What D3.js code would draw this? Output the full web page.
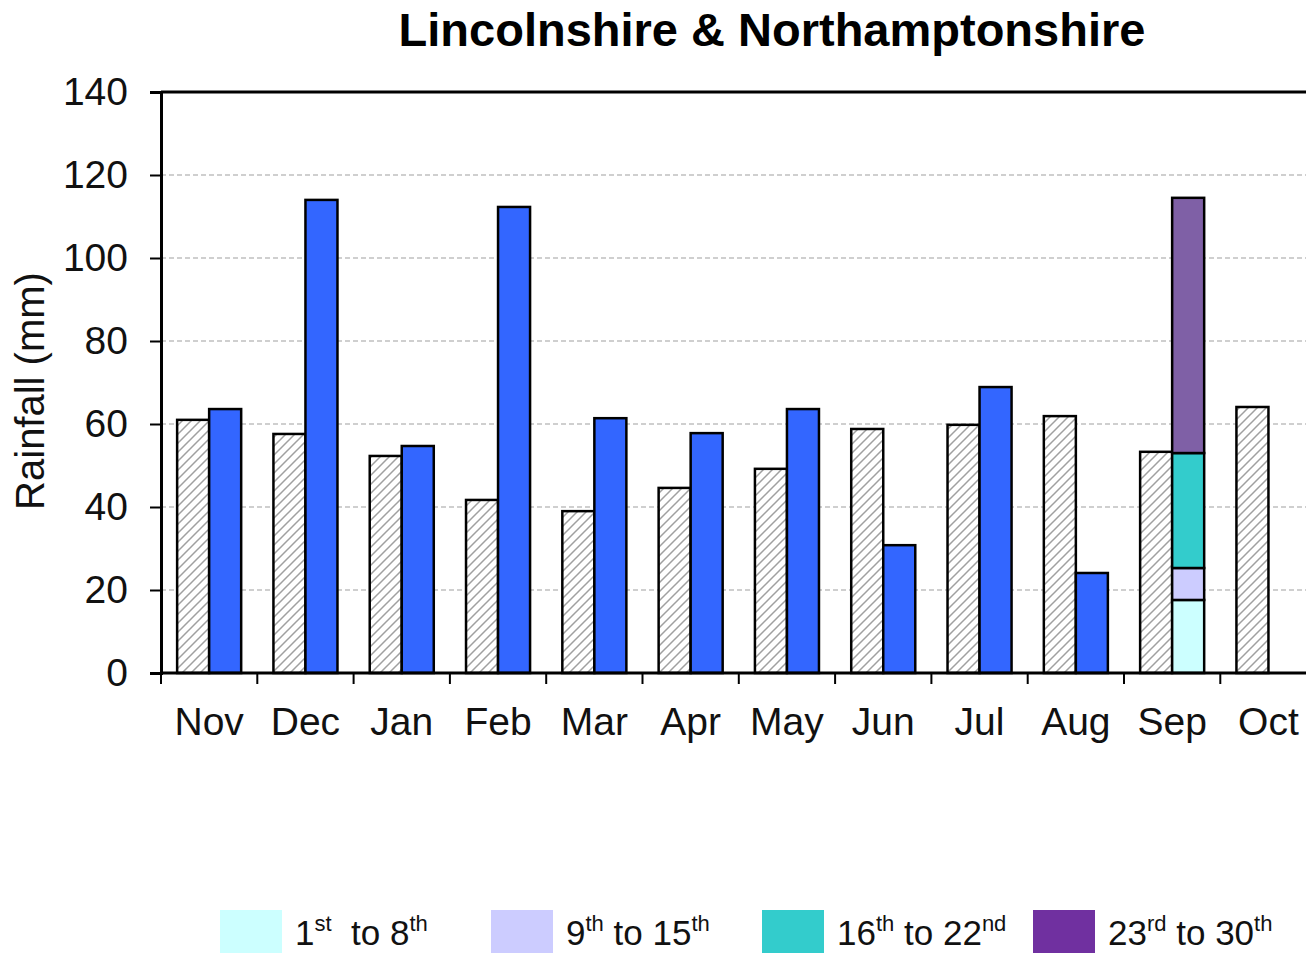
<!DOCTYPE html>
<html>
<head>
<meta charset="utf-8">
<script src="https://cdn.jsdelivr.net/npm/d3@7"></script>
<style>
  body { margin: 0; background: #fff; }
  svg { display: block; font-family: "Liberation Sans", Arial, sans-serif; }
</style>
</head>
<body>
<div id="chart"></div>
<script>
// data
const months = ['Nov', 'Dec', 'Jan', 'Feb', 'Mar', 'Apr', 'May', 'Jun', 'Jul', 'Aug', 'Sep', 'Oct'];
const average = [61, 57.6, 52.3, 41.7, 39, 44.6, 49.2, 58.8, 59.8, 61.9, 53.3, 64.1];
const actual = [63.6, 114, 54.7, 112.3, 61.4, 57.8, 63.6, 30.8, 68.9, 24.1, null, null];
const sepParts = [17.6, 7.7, 27.7, 61.5];
const partLabels = [['1', 'st', '  to 8', 'th'], ['9', 'th', ' to 15', 'th'], ['16', 'th', ' to 22', 'nd'], ['23', 'rd', ' to 30', 'th']];
const partColors = ['#ccffff', '#ccccff', '#33cccc', '#7f60a6'];
const legendColors = ['#ccffff', '#ccccff', '#33cccc', '#7030a0'];
const yTicks = [0, 20, 40, 60, 80, 100, 120, 140];

const width = 1306;
const height = 953;
const plotLeft = 161;
const plotTop = 92;
const plotBottom = 673;
const step = 96.3;

const svg = d3.select('#chart')
  .append('svg')
  .attr('width', width)
  .attr('height', height);

const defs = svg.append('defs');
const hatch = defs.append('pattern')
  .attr('id', 'hatch')
  .attr('patternUnits', 'userSpaceOnUse')
  .attr('width', 9)
  .attr('height', 9);
hatch.append('rect').attr('width', 9).attr('height', 9).attr('fill', '#fff');
hatch.append('path')
  .attr('d', 'M-2,2 L2,-2 M0,9 L9,0 M7,11 L11,7')
  .attr('stroke', '#a0a0a0')
  .attr('stroke-width', 1.5);

const x = d3.scaleBand()
  .domain(months)
  .range([plotLeft, plotLeft + step * months.length])
  .paddingInner(0.335)
  .paddingOuter(0.1675);

const y = d3.scaleLinear()
  .domain([0, 140])
  .range([plotBottom, plotTop]);

// title
svg.append('text')
  .attr('x', 772)
  .attr('y', 46)
  .attr('text-anchor', 'middle')
  .attr('font-size', 47)
  .attr('font-weight', 'bold')
  .text('Lincolnshire & Northamptonshire');

// grid
svg.append('g')
  .selectAll('line')
  .data(yTicks.slice(1, -1))
  .enter()
  .append('line')
  .attr('x1', plotLeft)
  .attr('x2', width)
  .attr('y1', d => y(d))
  .attr('y2', d => y(d))
  .attr('stroke', '#cfcfcf')
  .attr('stroke-width', 2)
  .attr('stroke-dasharray', '5,3');

// y axis
const yAxis = svg.append('g')
  .attr('transform', `translate(${plotLeft},0)`)
  .call(d3.axisLeft(y).tickValues(yTicks).tickSize(11).tickPadding(22));
yAxis.select('.domain').attr('stroke', '#000').attr('stroke-width', 3);
yAxis.selectAll('.tick line').attr('stroke', '#000').attr('stroke-width', 2);
yAxis.selectAll('.tick text')
  .attr('font-size', 39)
  .attr('fill', '#111')
  .attr('font-family', '"Liberation Sans", Arial, sans-serif');

// top border
svg.append('line')
  .attr('x1', plotLeft)
  .attr('x2', width)
  .attr('y1', plotTop)
  .attr('y2', plotTop)
  .attr('stroke', '#000')
  .attr('stroke-width', 3);

const bw = x.bandwidth() / 2;

// average bars (hatched)
svg.append('g')
  .selectAll('rect')
  .data(months)
  .enter()
  .append('rect')
  .attr('x', d => x(d))
  .attr('y', (d, i) => y(average[i]))
  .attr('width', bw)
  .attr('height', (d, i) => plotBottom - y(average[i]))
  .attr('fill', 'url(#hatch)')
  .attr('stroke', '#000')
  .attr('stroke-width', 2.5);

// actual bars
svg.append('g')
  .selectAll('rect')
  .data(months.filter((d, i) => actual[i] != null))
  .enter()
  .append('rect')
  .attr('x', d => x(d) + bw)
  .attr('y', d => y(actual[months.indexOf(d)]))
  .attr('width', bw)
  .attr('height', d => plotBottom - y(actual[months.indexOf(d)]))
  .attr('fill', '#3366ff')
  .attr('stroke', '#000')
  .attr('stroke-width', 2.5);

// September split by week
let acc = 0;
const stacks = sepParts.map((v, i) => {
  const s = { y0: acc, y1: acc + v, color: partColors[i] };
  acc += v;
  return s;
});
svg.append('g')
  .selectAll('rect')
  .data(stacks)
  .enter()
  .append('rect')
  .attr('x', x('Sep') + bw)
  .attr('y', d => y(d.y1))
  .attr('width', bw)
  .attr('height', d => y(d.y0) - y(d.y1))
  .attr('fill', d => d.color)
  .attr('stroke', '#000')
  .attr('stroke-width', 2.5);

// x axis
const xTicks = months.map(m => x(m) - x.step() * x.paddingInner() / 2);
svg.append('g')
  .selectAll('line')
  .data(xTicks)
  .enter()
  .append('line')
  .attr('x1', d => d)
  .attr('x2', d => d)
  .attr('y1', plotBottom)
  .attr('y2', plotBottom + 11)
  .attr('stroke', '#000')
  .attr('stroke-width', 2);
svg.append('line')
  .attr('x1', plotLeft)
  .attr('x2', width)
  .attr('y1', plotBottom)
  .attr('y2', plotBottom)
  .attr('stroke', '#000')
  .attr('stroke-width', 3);
svg.append('g')
  .selectAll('text')
  .data(months)
  .enter()
  .append('text')
  .attr('x', d => x(d) + x.bandwidth() / 2)
  .attr('y', 735)
  .attr('text-anchor', 'middle')
  .attr('font-size', 39)
  .attr('fill', '#111')
  .text(d => d);

// y label
svg.append('text')
  .attr('transform', 'translate(44,391) rotate(-90)')
  .attr('text-anchor', 'middle')
  .attr('font-size', 40)
  .attr('fill', '#111')
  .text('Rainfall (mm)');

// legend
const legendX = [220, 491, 762, 1033];
const legend = svg.append('g')
  .selectAll('g')
  .data(partLabels)
  .enter()
  .append('g')
  .attr('transform', (d, i) => `translate(${legendX[i]},910)`);
legend.append('rect')
  .attr('width', 62)
  .attr('height', 50)
  .attr('fill', (d, i) => legendColors[i]);
const lt = legend.append('text')
  .attr('x', 75)
  .attr('y', 35)
  .attr('font-size', 35)
  .attr('fill', '#111')
  .style('white-space', 'pre');
lt.append('tspan').text(d => d[0]);
lt.append('tspan').attr('font-size', 22).attr('dy', -14).text(d => d[1]);
lt.append('tspan').attr('dy', 14).text(d => d[2]);
lt.append('tspan').attr('font-size', 22).attr('dy', -14).text(d => d[3]);
</script>
</body>
</html>
